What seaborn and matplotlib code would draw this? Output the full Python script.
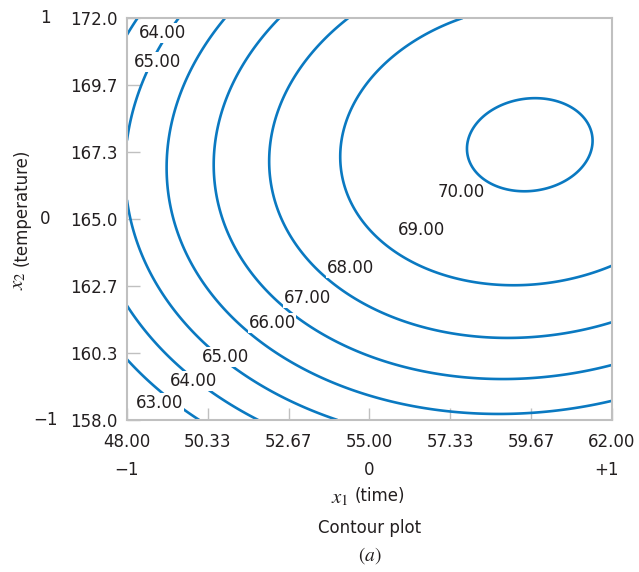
# plot.py
# Contour plot of fitted yield surface, time vs temperature

import numpy as np
import matplotlib
matplotlib.use('Agg')
import matplotlib.pyplot as plt
import seaborn as sns

# ------------------------------------------------------
# DATA
# ------------------------------------------------------

# Fitted second order model in coded units (x1 = time, x2 = temperature)
b0 = 69.084
b_linear = [2.318, 1.478]       # x1, x2
b_quad = [-1.852, -2.315]       # x1^2, x2^2
b_inter = 0.353                 # x1*x2

# Natural units of the coded range -1..+1
time_center, time_half = 55.0, 7.0
temp_center, temp_half = 165.0, 7.0

contour_levels = [63, 64, 65, 66, 67, 68, 69, 70]

time_ticks = [48.00, 50.33, 52.67, 55.00, 57.33, 59.67, 62.00]
time_labels = ['48.00', '50.33', '52.67', '55.00', '57.33', '59.67', '62.00']
temp_ticks = [158.0, 160.33, 162.67, 165.0, 167.33, 169.67, 172.0]
temp_labels = ['158.0', '160.3', '162.7', '165.0', '167.3', '169.7', '172.0']

coded_time = ['\u22121', '0', '+1']
coded_temp = ['\u22121', '0', '1']

# Contour label text and where each one sits (time, temperature)
label_values = [64, 65, 63, 64, 65, 66, 67, 68, 69, 70]
label_pos = [(49.04, 171.48), (48.89, 170.47), (48.95, 158.59), (49.91, 159.36),
             (50.83, 160.19), (52.19, 161.38), (53.20, 162.25), (54.44, 163.29),
             (56.49, 164.62), (57.64, 165.94)]

# ------------------------------------------------------
# SURFACE
# ------------------------------------------------------

g1, g2 = np.meshgrid(np.linspace(-1, 1, 400), np.linspace(-1, 1, 400))
yhat = (b0 + b_linear[0]*g1 + b_linear[1]*g2 + b_quad[0]*g1**2
        + b_quad[1]*g2**2 + b_inter*g1*g2)
time_grid = time_center + time_half*g1
temp_grid = temp_center + temp_half*g2

# ------------------------------------------------------
# PLOT
# ------------------------------------------------------

sns.set_style('white')
plt.rcParams['font.family'] = ['DejaVu Sans']
plt.rcParams['mathtext.fontset'] = 'stix'

txt = '#231f20'
line_col = '#0a79c1'
grey = '#c0c0c0'

fig = plt.figure(figsize=(6.39, 5.72), dpi=100)
ax = fig.add_axes([0.1987, 0.2657, 0.759, 0.7028])

ax.contour(time_grid, temp_grid, yhat, levels=contour_levels,
           colors=line_col, linewidths=1.9)

# Labels with white box so the line breaks under them
for val, (xx, yy) in zip(label_values, label_pos):
    ax.text(xx, yy, f'{val:.2f}', fontsize=12, color=txt, ha='center', va='center',
            bbox=dict(facecolor='white', edgecolor='none', pad=0.5), zorder=4)

ax.set_xlim(48, 62)
ax.set_ylim(158, 172)
ax.set_xticks(time_ticks)
ax.set_xticklabels(time_labels)
ax.set_yticks(temp_ticks)
ax.set_yticklabels(temp_labels)
ax.tick_params(direction='in', length=9, width=1, color=grey,
               labelsize=12, labelcolor=txt, bottom=True, left=True)
ax.tick_params(axis='x', pad=9)
ax.tick_params(axis='y', pad=7)
for s in ax.spines.values():
    s.set_color(grey)
    s.set_linewidth(1.5)

# Coded values
for v, lab in zip([158, 165, 172], coded_temp):
    ax.text(-0.169, v, lab, transform=ax.get_yaxis_transform(), fontsize=12,
            color=txt, ha='center', va='center')
for v, lab in zip([48, 55, 61.85], coded_time):
    ax.text(v, -0.124, lab, transform=ax.get_xaxis_transform(), fontsize=12,
            color=txt, ha='center', va='center')

# Axis titles (italic variable a little larger, like the book)
ax.text(0.458, -0.195, r'$x_1$', transform=ax.transAxes, fontsize=15,
        color=txt, ha='right', va='center')
ax.text(0.470, -0.189, '(time)', transform=ax.transAxes, fontsize=12,
        color=txt, ha='left', va='center')
ax.text(-0.224, 0.370, r'$x_2$', transform=ax.transAxes, fontsize=15,
        color=txt, ha='center', va='top', rotation=90)
ax.text(-0.217, 0.382, '(temperature)', transform=ax.transAxes, fontsize=12,
        color=txt, ha='center', va='bottom', rotation=90)
ax.text(0.5, -0.269, 'Contour plot', transform=ax.transAxes, fontsize=12,
        color=txt, ha='center', va='center')
ax.text(0.5, -0.338, r'$(a)$', transform=ax.transAxes, fontsize=14,
        color=txt, ha='center', va='center')

fig.savefig('out.png', dpi=100)
